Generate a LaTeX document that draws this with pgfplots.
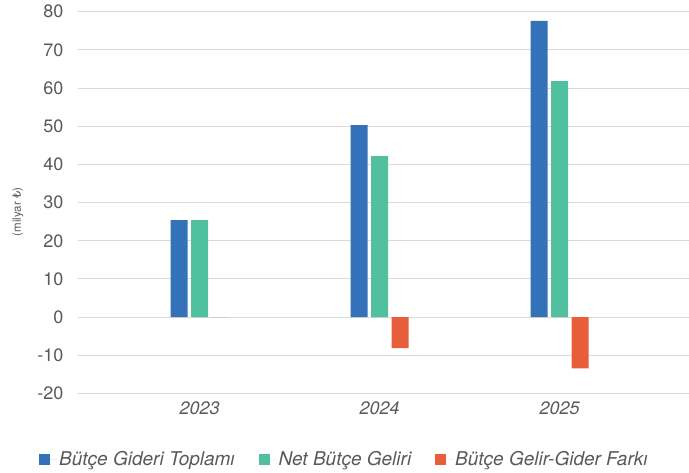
\documentclass[border=0pt]{standalone}
\usepackage{fontspec}
\setmainfont{TeX Gyre Heros}
\newfontfamily\dejavu{DejaVu Sans}
\usepackage{pgfplots}
\pgfplotsset{compat=1.18}
\definecolor{cblue}{HTML}{3371B8}
\definecolor{cgreen}{HTML}{50C09E}
\definecolor{cred}{HTML}{E65E3A}
\definecolor{gridc}{HTML}{D9D9D9}
\definecolor{txt}{HTML}{595959}
\begin{document}
\begin{tikzpicture}
\useasboundingbox (0,0) rectangle (689bp,473bp);
\begin{axis}[
  at={(78bp,79.5bp)}, anchor=south west,
  scale only axis, width=611bp, height=381.8bp,
  ybar=3.5bp, bar width=17bp,
  xmin=-0.675, xmax=2.719,
  ymin=-20, ymax=80,
  ytick={-20,-10,...,80},
  xtick={0,1,2}, xticklabels={2023,2024,2025},
  axis line style={draw=none},
  major tick length=0pt,
  ymajorgrids, grid style={gridc, line width=1bp},
  /pgf/number format/assume math mode=true,
  yticklabel style={font=\fontsize{18bp}{20bp}\selectfont, text=txt, xshift=-11bp},
  xticklabel style={font=\fontsize{18bp}{20bp}\selectfont\itshape, text=txt, yshift=-5bp},
  ylabel={(milyar {\dejavu ₺})},
  ylabel style={at={(rel axis cs:-0.0982,0.4754)}, anchor=center, font=\fontsize{11.5bp}{13bp}\selectfont, text=txt},
  legend columns=3,
  legend style={at={(rel axis cs:0.436,-0.1716)}, anchor=center, draw=none, fill=none,
    font=\fontsize{19bp}{22bp}\selectfont\itshape, text=txt,
    /tikz/every even column/.append style={column sep=22bp}},
  legend image code/.code={\fill[#1] (0bp,-5.5bp) rectangle (11bp,5.5bp); \path (0bp,0bp) -- (18bp,0bp);},
]
\addplot[fill=cblue, draw=none] coordinates {(0,25.4) (1,50.3) (2,77.6)};
\addplot[fill=cgreen, draw=none] coordinates {(0,25.4) (1,42.2) (2,61.8)};
\addplot[fill=cred, draw=none] coordinates {(0,0) (1,-8.1) (2,-13.4)};
\legend{Bütçe Gideri Toplamı, Net Bütçe Geliri, Bütçe Gelir-Gider Farkı}
\end{axis}
\end{tikzpicture}
\end{document}
